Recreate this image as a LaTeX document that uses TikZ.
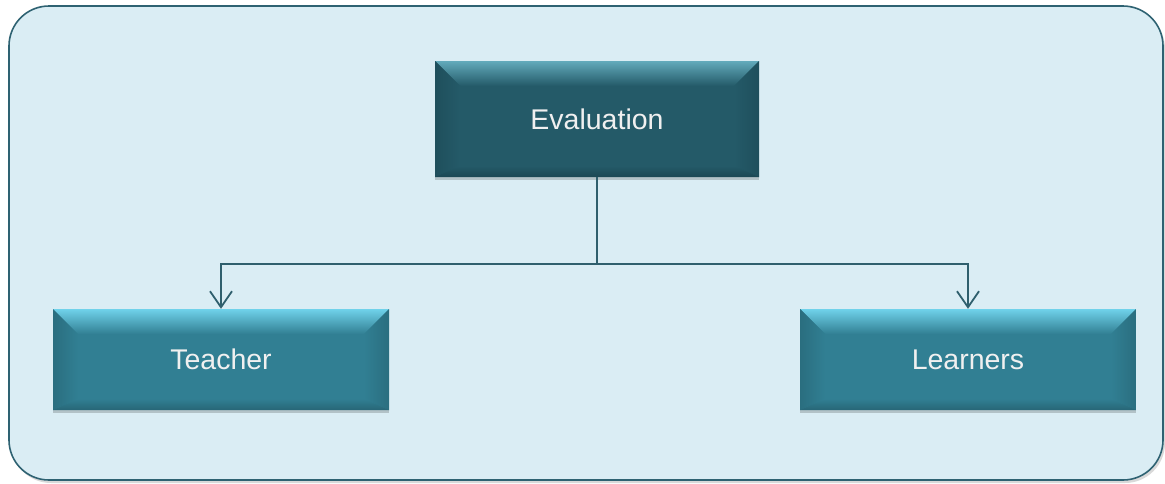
\documentclass[tikz,border=0pt]{standalone}
\usepackage{fontspec}
\setmainfont{Liberation Sans}
\usetikzlibrary{arrows.meta,calc,shadows}
\definecolor{panelfill}{HTML}{DAEDF4}
\definecolor{panelline}{HTML}{2E6272}
\definecolor{wire}{HTML}{2F5F6D}
% Evaluation box colours
\definecolor{evbase}{HTML}{245A68}
\definecolor{evlight}{HTML}{62AABB}
\definecolor{evside}{HTML}{1F4F5C}
\definecolor{evbottom}{HTML}{1B4753}
% child box colours
\definecolor{chbase}{HTML}{317F93}
\definecolor{chlight}{HTML}{70D2EA}
\definecolor{chside}{HTML}{2A6E7F}
\definecolor{chbottom}{HTML}{276676}
\tikzset{
  x=1pt, y=1pt,
  bevel depth/.store in=\bvd, bevel depth=25,
  bevel/.style n args={4}{
    fill=#1, draw=none, text=white!94!black,
    font=\fontsize{28.5}{32}\selectfont,
    drop shadow={shadow xshift=0pt, shadow yshift=-3pt, opacity=0.18, fill=black},
    path picture={
      \coordinate (bsw) at (path picture bounding box.south west);
      \coordinate (bne) at (path picture bounding box.north east);
      \coordinate (bnw) at (bsw |- bne);
      \coordinate (bse) at (bne |- bsw);
      % top face
      \shade[top color=#2, bottom color=#1]
        (bnw) -- (bne) -- ($(bne)+(-\bvd,-\bvd)$) -- ($(bnw)+(\bvd,-\bvd)$) -- cycle;
      % left and right faces
      \shade[left color=#3, right color=#1]
        (bnw) -- ($(bnw)+(\bvd,-\bvd)$) -- ($(bsw)+(\bvd,0.45*\bvd)$) -- (bsw) -- cycle;
      \shade[left color=#1, right color=#3]
        (bne) -- ($(bne)+(-\bvd,-\bvd)$) -- ($(bse)+(-\bvd,0.45*\bvd)$) -- (bse) -- cycle;
      % bottom face
      \shade[top color=#1, bottom color=#4]
        (bsw) -- ($(bsw)+(\bvd,0.45*\bvd)$) -- ($(bse)+(-\bvd,0.45*\bvd)$) -- (bse) -- cycle;
    }
  },
  evalbox/.style={bevel={evbase}{evlight}{evside}{evbottom},
    minimum width=324, minimum height=116, inner sep=0pt},
  childbox/.style={bevel={chbase}{chlight}{chside}{chbottom},
    minimum width=336, minimum height=101, inner sep=0pt},
  wireline/.style={draw=wire, line width=1.8pt},
  arr/.style={wireline, -{Straight Barb[length=16pt,width=22pt,line width=1.8pt]}},
}
\begin{document}
\begin{tikzpicture}
\useasboundingbox (0,0) rectangle (1165,-483);
% background panel
\fill[black, opacity=0.15, rounded corners=40] (11,-9) rectangle (1165,-483);
\draw[fill=panelfill, draw=panelline, line width=1.6pt, rounded corners=40]
  (9,-6) rectangle (1163,-480);
% boxes
\node[evalbox] (eval) at (597,-119) {Evaluation};
\node[childbox] (teacher) at (221,-359.5) {Teacher};
\node[childbox] (learners) at (968,-359.5) {Learners};
% connectors
\coordinate (split) at ($(eval.south)+(0,-87)$);
\draw[wireline] (eval.south) -- (split);
\draw[arr] (split) -| (teacher.north);
\draw[arr] (split) -| (learners.north);
\end{tikzpicture}
\end{document}
